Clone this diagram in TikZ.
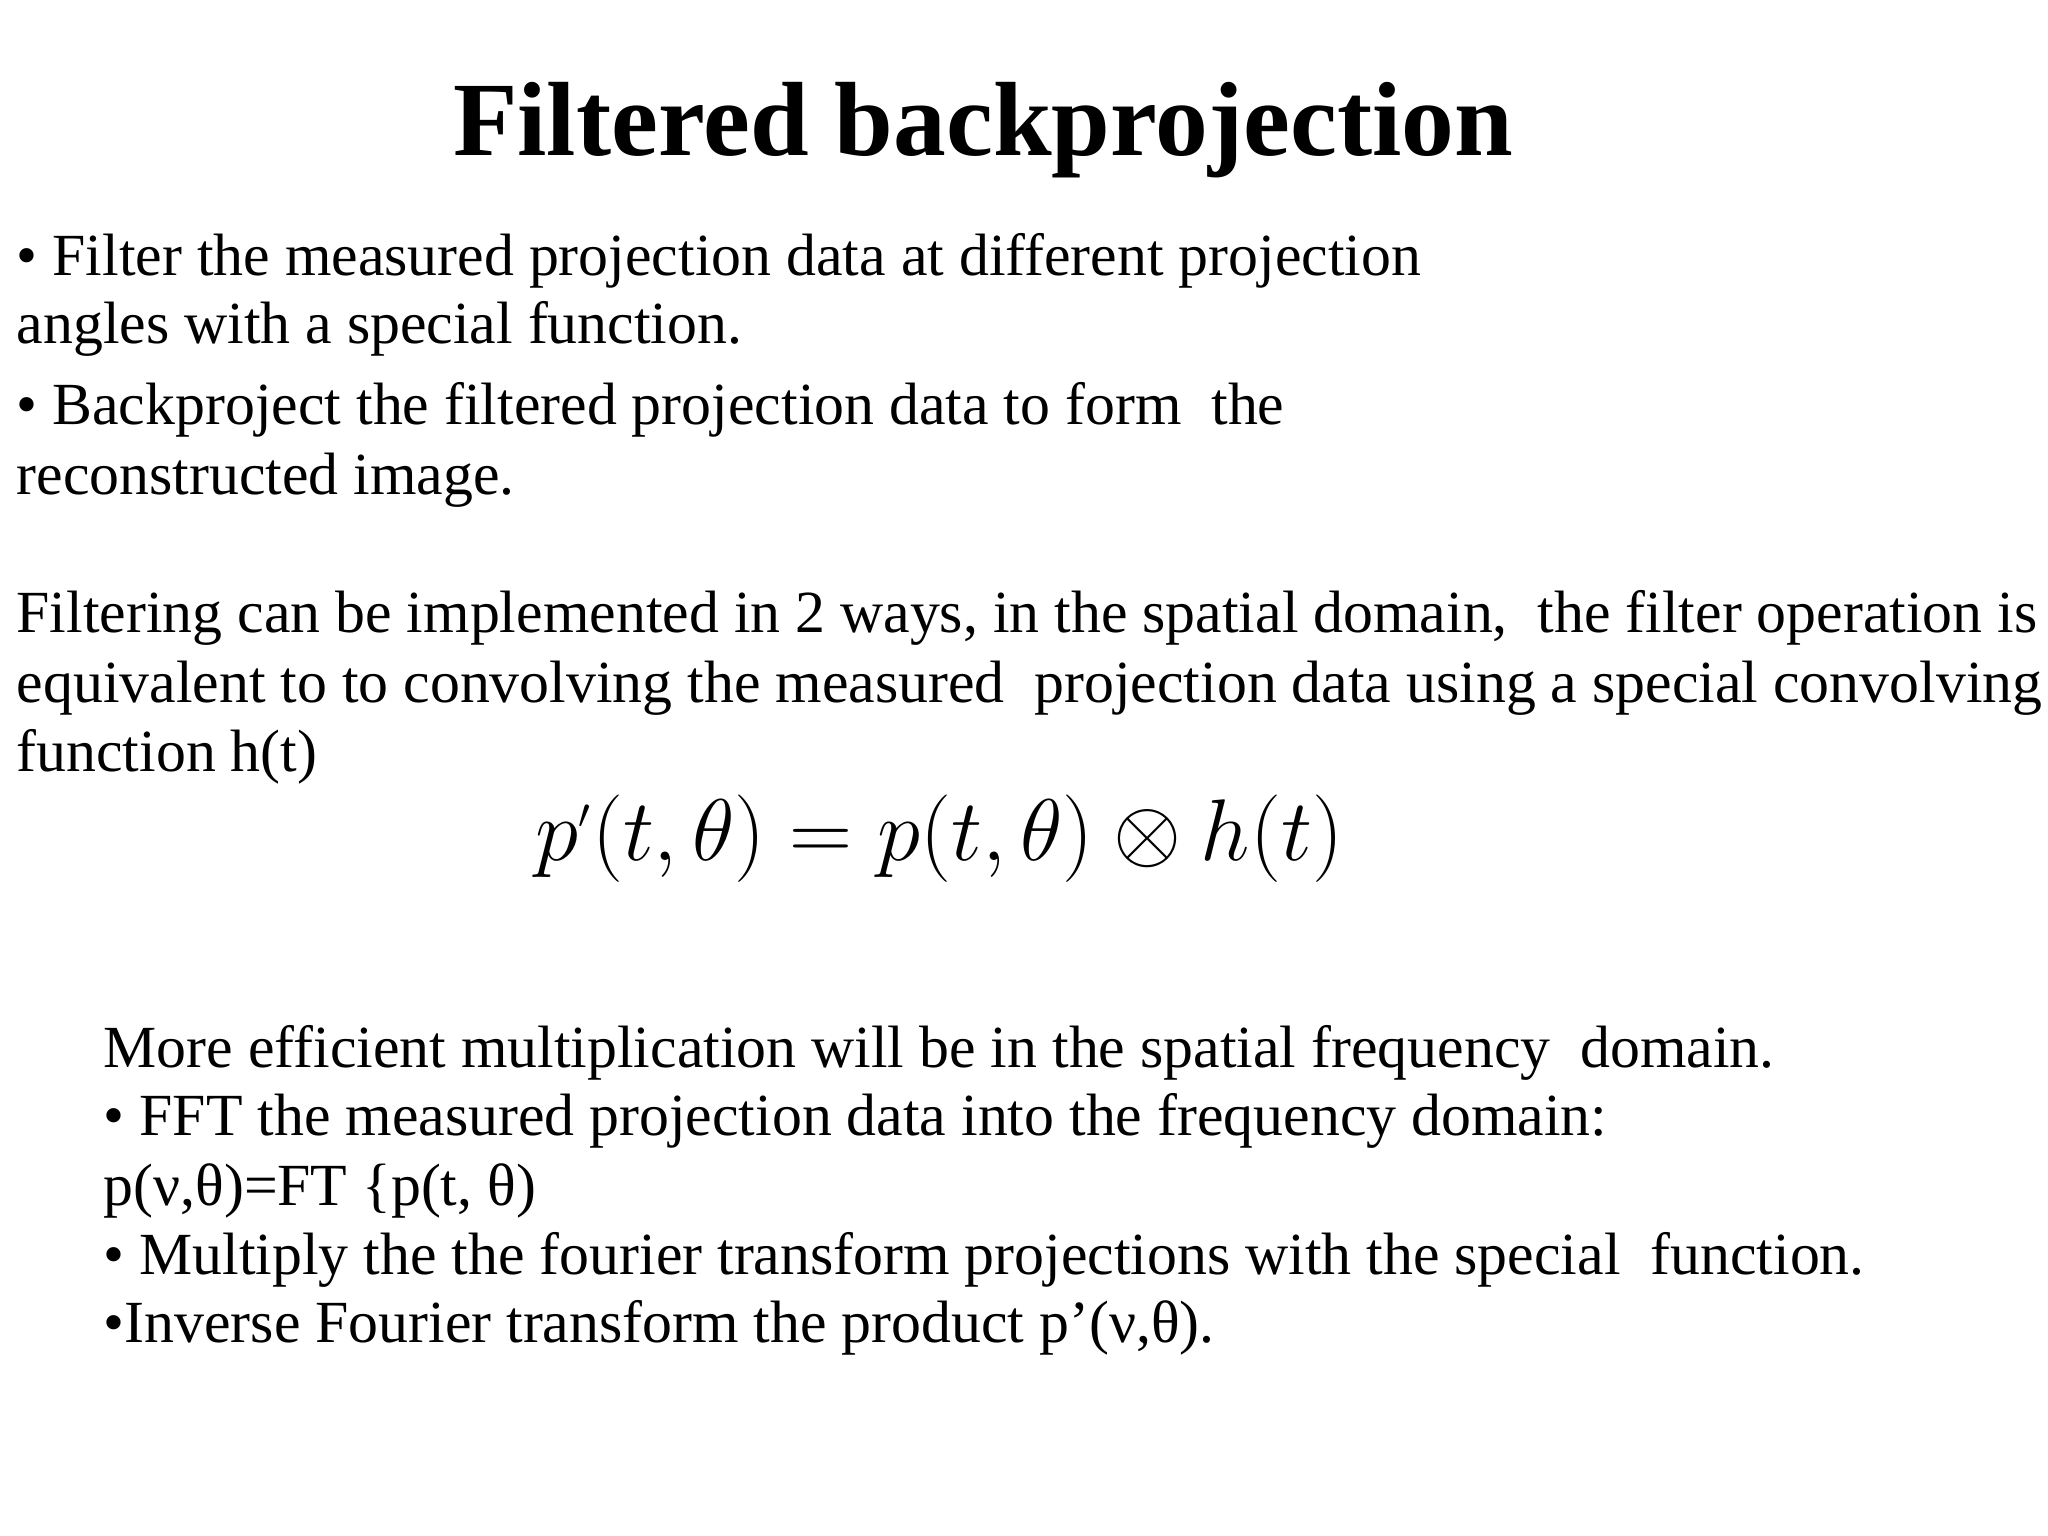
\documentclass[tikz,border=0pt]{standalone}
\usepackage{fontspec}
\setmainfont{Liberation Serif}
\begin{document}
\begin{tikzpicture}[x=0.01cm,y=-0.01cm,
  txt/.style={anchor=base west,inner sep=0pt,font=\fontsize{17}{20}\selectfont}]
\useasboundingbox (0,0) rectangle (2048,1536);
\node[anchor=base,inner sep=0pt,font=\fontsize{30}{34}\selectfont\bfseries] (title) at (983,155) {Filtered backprojection};
\node[txt] (l1) at (16,275) {• Filter the measured projection data at different projection};
\node[txt] (l2) at (16,343) {angles with a special function.};
\node[txt] (l3) at (16,424) {• Backproject the filtered projection data to form\ \ the};
\node[txt] (l4) at (16,494) {reconstructed image.};
\node[txt] (l5) at (16,632) {Filtering can be implemented in 2 ways, in the spatial domain,\ \ the filter operation is};
\node[txt] (l6) at (16,702) {equivalent to to convolving the measured\ \ projection data using a special convolving};
\node[txt] (l7) at (16,771) {function h(t)};
\node[anchor=base west,inner sep=0pt,font=\fontsize{24}{28}\selectfont] (eq) at (535,860) {$p^{\scriptscriptstyle\prime}(t,\theta)=p(t,\theta)\otimes h(t)$};
\node[txt] (m1) at (103,1067) {More efficient multiplication will be in the spatial frequency\ \ domain.};
\node[txt] (m2) at (103,1135) {• FFT the measured projection data into the frequency domain:};
\node[txt] (m3) at (103,1205) {p(ν,θ)=FT \{p(t, θ)};
\node[txt] (m4) at (103,1274) {• Multiply the the fourier transform projections with the special\ \ function.};
\node[txt] (m5) at (103,1342) {•Inverse Fourier transform the product p’(ν,θ).};
\end{tikzpicture}
\end{document}
